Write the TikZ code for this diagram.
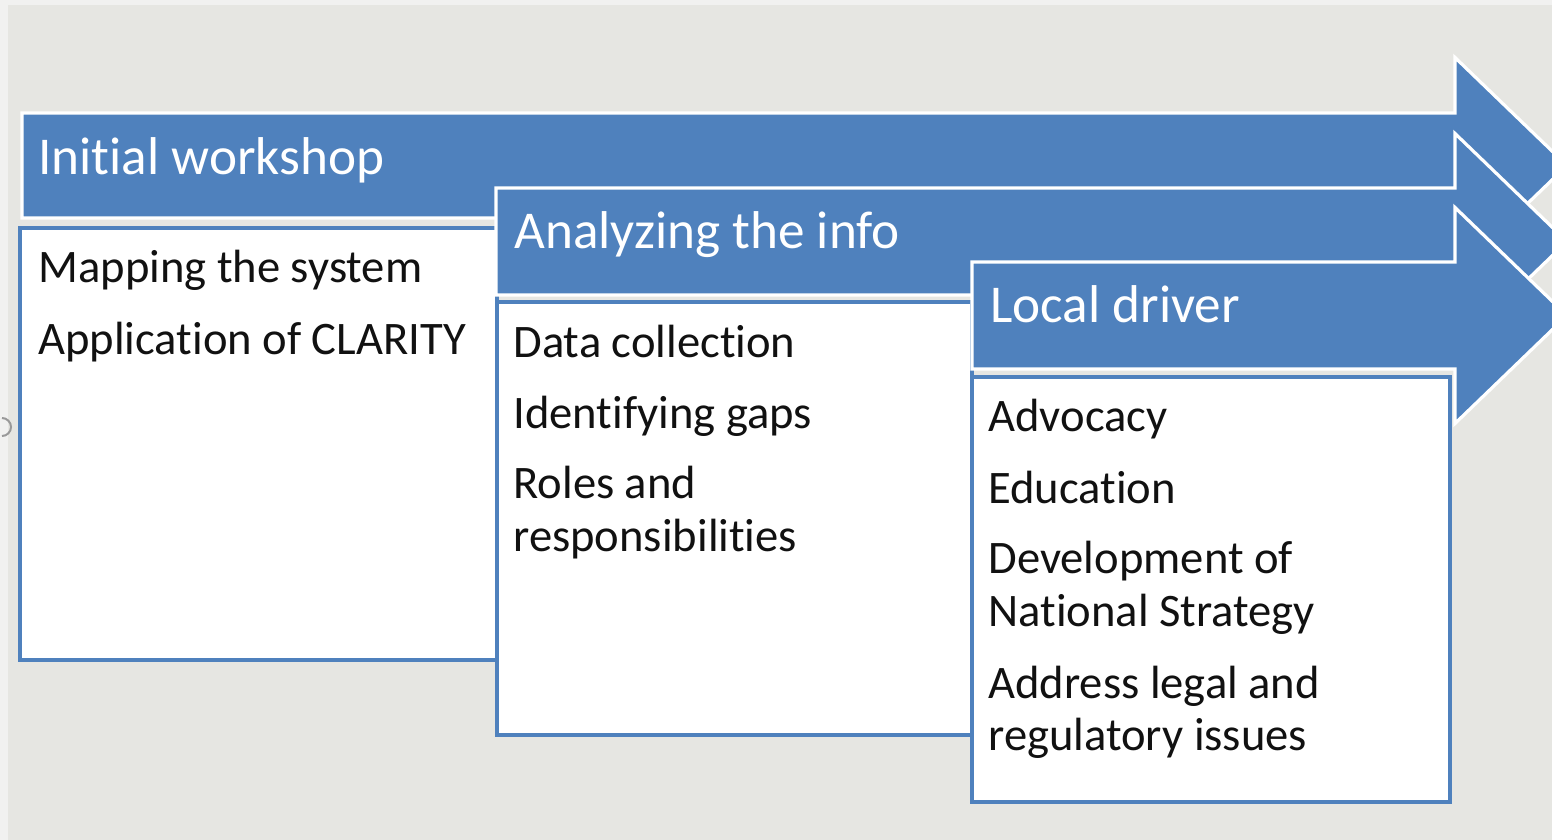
\documentclass[tikz,border=0pt]{standalone}
\usepackage{fontspec}
\setmainfont[Ligatures=NoCommon]{Carlito}
\definecolor{bg}{HTML}{E6E6E2}
\definecolor{bgedge}{HTML}{F1F1F0}
\definecolor{ablue}{HTML}{4F81BD}
\definecolor{ink}{HTML}{111111}
\begin{document}
\begin{tikzpicture}[x=0.5pt,y=-0.5pt,
  arrowshape/.style={fill=ablue, draw=white, line width=1.6pt, line join=miter},
  stagebox/.style={fill=white, draw=ablue, line width=1.6pt},
  heading/.style={text=white, font=\fontsize{26.6}{32}\selectfont, anchor=base west, inner sep=0pt},
  item/.style={text=ink, font=\fontsize{23.3}{28}\selectfont, anchor=base west, inner sep=0pt}]
\useasboundingbox (0,0) rectangle (1552,840);
\clip (0,0) rectangle (1552,840);
% background
\fill[bgedge] (0,0) rectangle (1552,840);
\fill[bg] (8,5) rectangle (1552,840);
\draw[gray!80, line width=1pt] (2,418) arc[start angle=-90, end angle=90, radius=9];
% stage 1
\draw[arrowshape] (22,113) -- (1455,113) -- (1455,57.5) -- (1567,165.5) -- (1455,273.5) -- (1455,218) -- (22,218) -- cycle;
\node[heading] (h1) at (38,175) {Initial workshop};
\draw[stagebox] (20,228) rectangle (497,660);
\node[item] (s1a) at (38,282) {Mapping the system};
\node[item] (s1b) at (38,354) {Application of CLARITY};
% stage 2
\draw[arrowshape] (496,188) -- (1455,188) -- (1455,133.5) -- (1567,241.5) -- (1455,349.5) -- (1455,295) -- (496,295) -- cycle;
\node[heading] (h2) at (514,248) {Analyzing the info};
\draw[stagebox] (497,302) rectangle (972,735);
\node[item] (s2a) at (513,357) {Data collection};
\node[item] (s2b) at (513,428) {Identifying gaps};
\node[item] (s2c) at (513,498) {Roles and};
\node[item] (s2d) at (513,551) {responsibilities};
% stage 3
\draw[arrowshape] (972,262) -- (1455,262) -- (1455,207.5) -- (1567,315.5) -- (1455,423.5) -- (1455,369) -- (972,369) -- cycle;
\node[heading] (h3) at (990,322) {Local driver};
\draw[stagebox] (972,377) rectangle (1450,802);
\node[item] (s3a) at (988,431) {Advocacy};
\node[item] (s3b) at (988,503) {Education};
\node[item] (s3c) at (988,573) {Development of};
\node[item] (s3d) at (988,626) {National Strategy};
\node[item] (s3e) at (988,698) {Address legal and};
\node[item] (s3f) at (988,750) {regulatory issues};
\end{tikzpicture}
\end{document}
